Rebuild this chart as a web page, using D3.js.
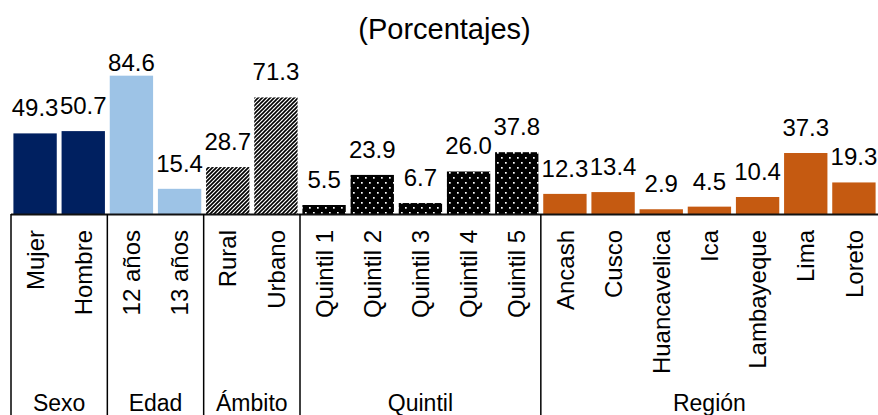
<!DOCTYPE html>
<html>
<head>
<meta charset="utf-8">
<script src="https://cdn.jsdelivr.net/npm/d3@7"></script>
<style>
  html, body { margin: 0; padding: 0; background: #fff; }
  svg { display: block; font-family: "Liberation Sans", Arial, sans-serif; }
</style>
</head>
<body>
<svg id="chart" width="878" height="415"></svg>
<script>
// Categories, grouped along the x axis
const categories = [
  "Mujer", "Hombre",
  "12 años", "13 años",
  "Rural", "Urbano",
  "Quintil 1", "Quintil 2", "Quintil 3", "Quintil 4", "Quintil 5",
  "Ancash", "Cusco", "Huancavelica", "Ica", "Lambayeque", "Lima", "Loreto"
];
const values = [
  49.3, 50.7,
  84.6, 15.4,
  28.7, 71.3,
  5.5, 23.9, 6.7, 26.0, 37.8,
  12.3, 13.4, 2.9, 4.5, 10.4, 37.3, 19.3
];
const groupNames = ["Sexo", "Edad", "Ámbito", "Quintil", "Región"];
const groupSizes = [2, 2, 2, 5, 7];
const title = "(Porcentajes)";

const width = 878, height = 415;
const svg = d3.select("#chart");

// Fill patterns
const defs = svg.append("defs");

// Diagonal "/" hatching on a 4px tile
const stripes = (id, sw) => {
  const p = defs.append("pattern")
    .attr("id", id)
    .attr("patternUnits", "userSpaceOnUse")
    .attr("width", 4).attr("height", 4);
  p.append("rect").attr("width", 4).attr("height", 4).attr("fill", "#fff");
  p.append("path")
    .attr("d", "M-1,1 L1,-1 M0,4 L4,0 M3,5 L5,3")
    .attr("stroke", "#000")
    .attr("stroke-width", sw);
};
stripes("stripeRural", 1.7);
stripes("stripeUrbano", 1.6);

// Rural bar is drawn with a soft edge
defs.append("filter").attr("id", "soft")
  .attr("x", "-10%").attr("y", "-10%").attr("width", "120%").attr("height", "120%")
  .append("feGaussianBlur").attr("stdDeviation", 0.6);

const dots = defs.append("pattern")
  .attr("id", "dots")
  .attr("patternUnits", "userSpaceOnUse")
  .attr("width", 8).attr("height", 10);
dots.append("rect").attr("width", 8).attr("height", 10).attr("fill", "#000");
dots.append("rect").attr("x", 1).attr("y", 2).attr("width", 1.7).attr("height", 1.7).attr("fill", "#fff");
dots.append("rect").attr("x", 5).attr("y", 7).attr("width", 1.7).attr("height", 1.7).attr("fill", "#fff");

// Group of each category
const groupOf = [];
groupSizes.forEach((n, gi) => { for (let k = 0; k < n; k++) groupOf.push(groupNames[gi]); });

function fillFor(cat, i) {
  const g = groupOf[i];
  if (g === "Sexo") return "#002060";
  if (g === "Edad") return "#9DC3E6";
  if (g === "Ámbito") return cat === "Rural" ? "url(#stripeRural)" : "url(#stripeUrbano)";
  if (g === "Quintil") return "url(#dots)";
  return "#C55A11";
}

// Scales
const x = d3.scaleBand()
  .domain(categories)
  .range([11, 878])
  .paddingInner(0.1)
  .paddingOuter(0.05);

const y = d3.scaleLinear()
  .domain([0, 100])
  .range([214, 50.5]);

// Title
svg.append("text")
  .attr("x", (x.range()[0] + x.range()[1]) / 2)
  .attr("y", 39)
  .attr("text-anchor", "middle")
  .attr("font-size", 29)
  .attr("fill", "#000")
  .text(title);

// Bars
svg.append("g").selectAll("rect")
  .data(categories)
  .join("rect")
  .attr("x", d => x(d))
  .attr("y", (d, i) => y(values[i]))
  .attr("width", x.bandwidth())
  .attr("height", (d, i) => y(0) - y(values[i]))
  .attr("fill", (d, i) => fillFor(d, i))
  .attr("filter", d => d === "Rural" ? "url(#soft)" : null);

// Value labels
const fmt = d3.format(".1f");
svg.append("g").selectAll("text")
  .data(categories)
  .join("text")
  .attr("x", d => x(d) + x.bandwidth() / 2)
  .attr("y", (d, i) => Math.max(y(values[i]) - 17, 70.5))
  .attr("text-anchor", "middle")
  .attr("font-size", 24)
  .attr("fill", "#000")
  .text((d, i) => fmt(values[i]));

// Baseline
svg.append("line")
  .attr("x1", x.range()[0]).attr("x2", x.range()[1])
  .attr("y1", y(0) + 0.5).attr("y2", y(0) + 0.5)
  .attr("stroke", "#111").attr("stroke-width", 2);

// Group separators and group labels
const step = x.step();
const edge = i => x(categories[i]) - step * x.paddingInner() / 2;
let start = 0;
const sepG = svg.append("g");
groupSizes.forEach((n, gi) => {
  const x0 = edge(start);
  sepG.append("line")
    .attr("x1", x0).attr("x2", x0)
    .attr("y1", y(0)).attr("y2", height)
    .attr("stroke", "#000").attr("stroke-width", 1.5);
  const xEnd = x0 + n * step;
  sepG.append("text")
    .attr("x", (x0 + xEnd) / 2)
    .attr("y", 411)
    .attr("text-anchor", "middle")
    .attr("font-size", 23)
    .attr("fill", "#000")
    .text(groupNames[gi]);
  start += n;
});

// Category labels, rotated
svg.append("g").selectAll("text")
  .data(categories)
  .join("text")
  .attr("transform", d => `translate(${x(d) + x.bandwidth() / 2},230) rotate(-90)`)
  .attr("dy", "0.36em")
  .attr("text-anchor", "end")
  .attr("font-size", 24)
  .attr("fill", "#000")
  .text(d => d);
</script>
</body>
</html>
